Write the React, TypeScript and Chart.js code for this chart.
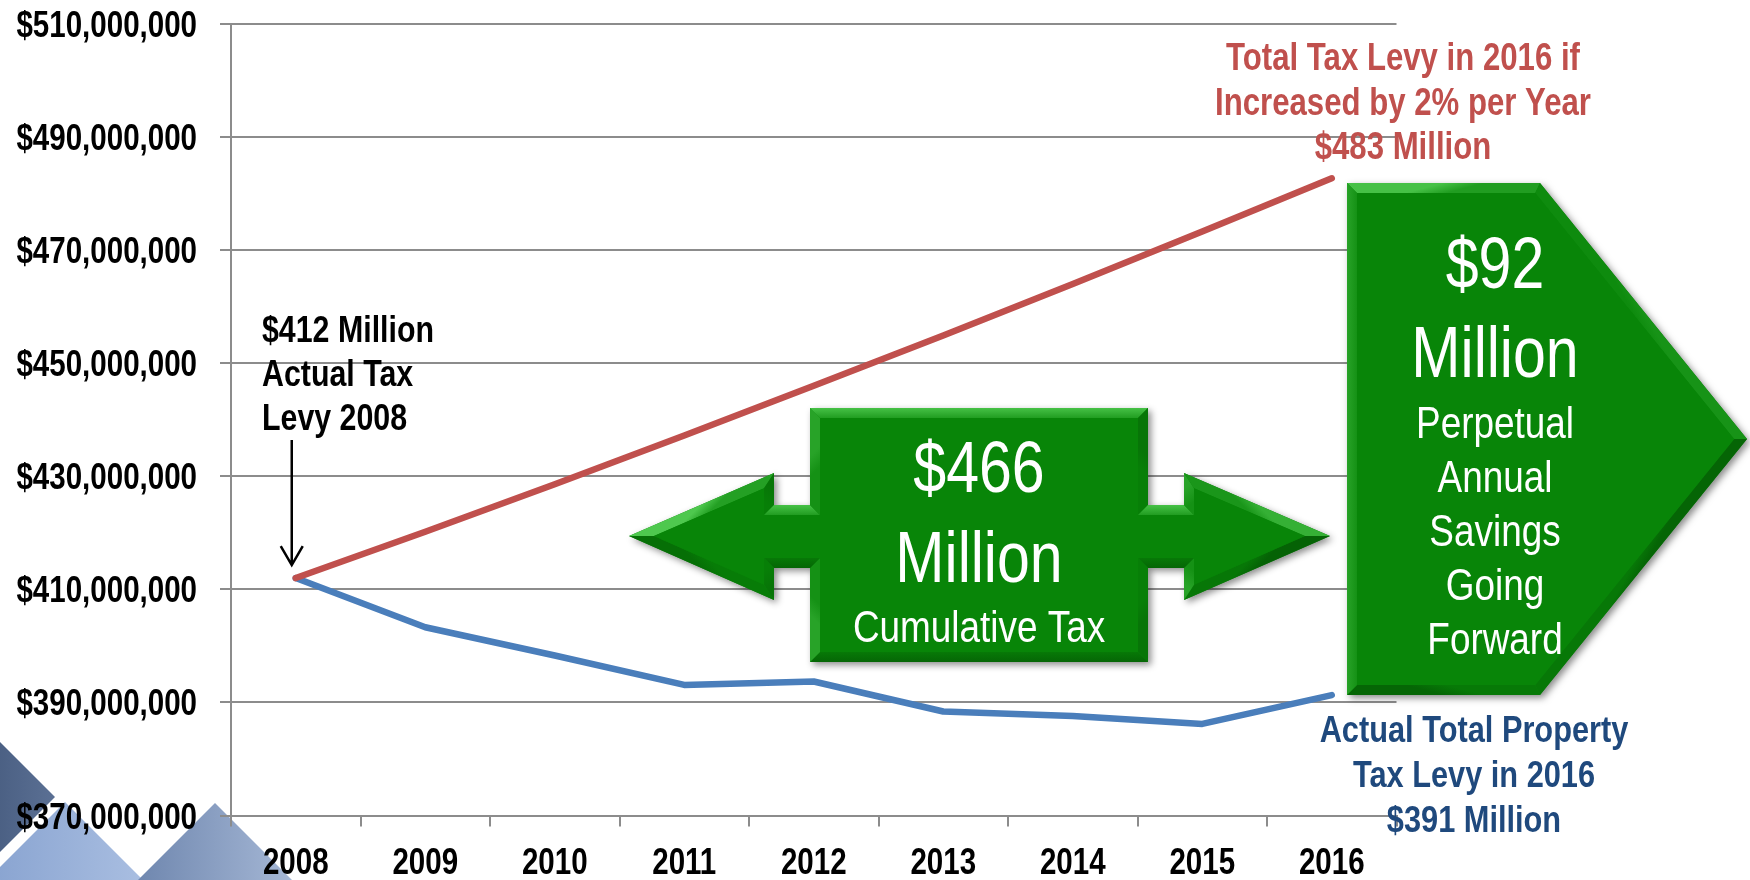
import React, { useEffect, useRef } from 'react';
import { Chart, registerables } from 'chart.js';

Chart.register(...registerables);

// Property tax levy, millions of dollars
const years = ['2008', '2009', '2010', '2011', '2012', '2013', '2014', '2015', '2016'];
const levyAtTwoPercentGrowth = [412.0, 420.2, 428.6, 437.2, 446.0, 454.9, 464.0, 473.3, 482.7];
const actualPropertyLevy = [412.0, 403.3, 398.3, 393.1, 393.7, 388.4, 387.6, 386.2, 391.3];
const axisMin = 370;
const axisMax = 510;
const axisStep = 20;

const startNote = ['$412 Million', 'Actual Tax', 'Levy 2008'];
const growthNote = ['Total Tax Levy in 2016 if', 'Increased by 2% per Year', '$483 Million'];
const actualNote = ['Actual Total Property', 'Tax Levy in 2016', '$391 Million'];
const cumulativeLines = ['$466', 'Million', 'Cumulative Tax'];
const annualLines = ['$92', 'Million', 'Perpetual', 'Annual', 'Savings', 'Going', 'Forward'];

const RED = '#C0504D';
const BLUE = '#4A7EBB';
const NOTE_BLUE = '#1F497D';
const GRID = '#8c8c8c';
const NARROW = '"Liberation Sans Narrow", "Arial Narrow"';
const TICK_LEN = 11;
const LABEL_PAD = 23;

type P = { x: number; y: number };
type TextFn = (
  ctx: CanvasRenderingContext2D,
  text: string,
  x: number,
  y: number,
  size: number,
  bold: boolean,
  color: string,
  align: CanvasTextAlign
) => void;

function narrowAvailable(): boolean {
  const c = document.createElement('canvas').getContext('2d');
  if (!c) return false;
  const probe = '$510,000,000 Million';
  c.font = '40px monospace';
  const a = c.measureText(probe).width;
  c.font = `40px ${NARROW}, monospace`;
  const b = c.measureText(probe).width;
  return Math.abs(a - b) > 1;
}

// condensed sans text: a narrow face when installed, otherwise a horizontally squeezed Arial-metric face
function makeText(narrowOK: boolean): TextFn {
  return (ctx, text, x, y, size, bold, color, align) => {
    ctx.save();
    ctx.fillStyle = color;
    ctx.textAlign = align;
    ctx.textBaseline = 'alphabetic';
    const weight = bold ? 'bold ' : '';
    if (narrowOK) {
      ctx.font = `${weight}${size}px ${NARROW}, sans-serif`;
      ctx.fillText(text, x, y);
    } else {
      ctx.translate(x, y);
      ctx.scale(0.82, 1);
      ctx.font = `${weight}${size}px "Liberation Sans", Arial, sans-serif`;
      ctx.fillText(text, 0, 0);
    }
    ctx.restore();
  };
}

const mixArr = (a: number[], b: number[], t: number) => a.map((v, i) => v + (b[i] - v) * t);
const rgb = (c: number[]) => `rgb(${c.map((v) => Math.round(v)).join(',')})`;

function insetPolygon(pts: P[], d: number): P[] {
  const n = pts.length;
  const lines = pts.map((p, i) => {
    const q = pts[(i + 1) % n];
    const dx = q.x - p.x;
    const dy = q.y - p.y;
    const len = Math.hypot(dx, dy);
    return { x: p.x + (-dy / len) * d, y: p.y + (dx / len) * d, dx, dy };
  });
  return pts.map((_, i) => {
    const a = lines[(i - 1 + n) % n];
    const b = lines[i];
    const cross = a.dx * b.dy - a.dy * b.dx;
    if (Math.abs(cross) < 1e-9) return { x: b.x, y: b.y };
    const t = ((b.x - a.x) * b.dy - (b.y - a.y) * b.dx) / cross;
    return { x: a.x + a.dx * t, y: a.y + a.dy * t };
  });
}

function drawBeveledShape(ctx: CanvasRenderingContext2D, pts: P[], bevel: number) {
  const base = [8, 133, 8];
  const light = [78, 200, 78];
  const dark = [5, 98, 5];
  const trace = (list: P[]) => {
    ctx.beginPath();
    list.forEach((p, i) => (i ? ctx.lineTo(p.x, p.y) : ctx.moveTo(p.x, p.y)));
    ctx.closePath();
  };
  ctx.save();
  ctx.shadowColor = 'rgba(0,0,0,0.45)';
  ctx.shadowBlur = 7;
  ctx.shadowOffsetX = 3;
  ctx.shadowOffsetY = 3;
  trace(pts);
  ctx.fillStyle = rgb(base);
  ctx.fill();
  ctx.restore();

  const inner = insetPolygon(pts, bevel);
  const n = pts.length;
  const lx = -0.45;
  const ly = -0.89;
  for (let i = 0; i < n; i++) {
    const p = pts[i];
    const q = pts[(i + 1) % n];
    const pi = inner[i];
    const qi = inner[(i + 1) % n];
    const dx = q.x - p.x;
    const dy = q.y - p.y;
    const len = Math.hypot(dx, dy);
    const ox = dy / len;
    const oy = -dx / len;
    const dot = ox * lx + oy * ly;
    const edge = dot >= 0 ? mixArr(base, light, dot) : mixArr(base, dark, -dot);
    const g = ctx.createLinearGradient(
      (p.x + q.x) / 2,
      (p.y + q.y) / 2,
      (pi.x + qi.x) / 2,
      (pi.y + qi.y) / 2
    );
    g.addColorStop(0, rgb(edge));
    g.addColorStop(1, rgb(mixArr(edge, base, 0.6)));
    ctx.beginPath();
    ctx.moveTo(p.x, p.y);
    ctx.lineTo(q.x, q.y);
    ctx.lineTo(qi.x, qi.y);
    ctx.lineTo(pi.x, pi.y);
    ctx.closePath();
    ctx.fillStyle = g;
    ctx.fill();
  }
  trace(inner);
  ctx.fillStyle = rgb(base);
  ctx.fill();
}

function diamond(ctx: CanvasRenderingContext2D, cx: number, top: number, half: number, c1: string, c2: string) {
  const g = ctx.createLinearGradient(cx - half, 0, cx + half, 0);
  g.addColorStop(0, c1);
  g.addColorStop(1, c2);
  ctx.beginPath();
  ctx.moveTo(cx, top);
  ctx.lineTo(cx + half, top + half);
  ctx.lineTo(cx, top + 2 * half);
  ctx.lineTo(cx - half, top + half);
  ctx.closePath();
  ctx.fillStyle = g;
  ctx.fill();
}

const formatDollars = (v: number) => '$' + Math.round(v).toLocaleString('en-US');

export default function App() {
  const ref = useRef<HTMLCanvasElement>(null);

  useEffect(() => {
    if (!ref.current) return;
    const text = makeText(narrowAvailable());

    const decor = {
      id: 'levyDecor',
      beforeDraw(chart: Chart) {
        const ctx = chart.ctx;
        ctx.save();
        diamond(ctx, 0, 742, 55, '#3c5174', '#5b7094');
        diamond(ctx, 65, 802, 78, '#88a3d0', '#a9bee1');
        diamond(ctx, 215, 803, 80, '#6e86ae', '#a6b8d6');
        ctx.restore();
      },
      afterDatasetsDraw(chart: Chart) {
        const ctx = chart.ctx;
        const xs = chart.scales.x;
        const ys = chart.scales.y;
        const area = chart.chartArea;
        ctx.save();

        // axis tick labels, placed by the scales
        ys.ticks.forEach((t, i) => {
          const y = ys.getPixelForTick(i);
          text(ctx, formatDollars(t.value), area.left - TICK_LEN - LABEL_PAD, y + 13, 36, true, '#000', 'right');
        });
        xs.ticks.forEach((t, i) => {
          const x = xs.getPixelForTick(i);
          const label = String(xs.getLabelForValue(t.value));
          text(ctx, label, x, area.bottom + 58, 36, true, '#000', 'center');
        });

        // note and arrow on the 2008 starting point
        const x0 = xs.getPixelForValue(0);
        const y0 = ys.getPixelForValue(actualPropertyLevy[0] * 1e6);
        startNote.forEach((s, i) => text(ctx, s, 262, 342 + i * 44, 37, true, '#000', 'left'));
        const ax = x0 - 4;
        const tipY = y0 - 13;
        ctx.strokeStyle = '#000';
        ctx.lineWidth = 2.5;
        ctx.beginPath();
        ctx.moveTo(ax, 440);
        ctx.lineTo(ax, tipY);
        ctx.moveTo(ax - 11, tipY - 19);
        ctx.lineTo(ax, tipY);
        ctx.lineTo(ax + 11, tipY - 19);
        ctx.stroke();

        // 2016 end-point notes
        growthNote.forEach((s, i) => text(ctx, s, 1403, 70 + i * 44.5, 38, true, RED, 'center'));
        actualNote.forEach((s, i) => text(ctx, s, 1474, 742 + i * 45, 37.5, true, NOTE_BLUE, 'center'));

        // cumulative savings double arrow
        const doubleArrow: P[] = [
          { x: 629, y: 536 }, { x: 774, y: 473 }, { x: 774, y: 505 }, { x: 810, y: 505 },
          { x: 810, y: 408 }, { x: 1148, y: 408 }, { x: 1148, y: 505 }, { x: 1184, y: 505 },
          { x: 1184, y: 473 }, { x: 1330, y: 536 }, { x: 1184, y: 600 }, { x: 1184, y: 568 },
          { x: 1148, y: 568 }, { x: 1148, y: 662 }, { x: 810, y: 662 }, { x: 810, y: 568 },
          { x: 774, y: 568 }, { x: 774, y: 600 },
        ];
        drawBeveledShape(ctx, doubleArrow, 10);
        text(ctx, cumulativeLines[0], 979, 492, 72, false, '#fff', 'center');
        text(ctx, cumulativeLines[1], 979, 582, 72, false, '#fff', 'center');
        text(ctx, cumulativeLines[2], 979, 642, 45, false, '#fff', 'center');

        // annual savings pentagon arrow
        const pentagon: P[] = [
          { x: 1347, y: 183 }, { x: 1540, y: 183 }, { x: 1747, y: 439 },
          { x: 1540, y: 695 }, { x: 1347, y: 695 },
        ];
        drawBeveledShape(ctx, pentagon, 10);
        text(ctx, annualLines[0], 1495, 288, 72, false, '#fff', 'center');
        text(ctx, annualLines[1], 1495, 377, 72, false, '#fff', 'center');
        annualLines.slice(2).forEach((s, i) => text(ctx, s, 1495, 438 + i * 54, 45, false, '#fff', 'center'));

        ctx.restore();
      },
    };

    const chart = new Chart(ref.current, {
      type: 'line',
      data: {
        labels: years,
        datasets: [
          {
            label: 'Levy if increased 2% per year',
            data: levyAtTwoPercentGrowth.map((v) => v * 1e6),
            borderColor: RED,
            backgroundColor: RED,
            borderWidth: 6.5,
            borderCapStyle: 'round',
            borderJoinStyle: 'round',
            pointRadius: 0,
            tension: 0,
          },
          {
            label: 'Actual total property tax levy',
            data: actualPropertyLevy.map((v) => v * 1e6),
            borderColor: BLUE,
            backgroundColor: BLUE,
            borderWidth: 6.5,
            borderCapStyle: 'round',
            borderJoinStyle: 'round',
            pointRadius: 0,
            tension: 0,
          },
        ],
      },
      options: {
        responsive: false,
        animation: false,
        devicePixelRatio: 1,
        layout: { padding: { top: 24, right: 353.5, bottom: 0, left: 0 } },
        plugins: { legend: { display: false }, tooltip: { enabled: false } },
        scales: {
          x: {
            offset: true,
            grid: {
              offset: true,
              drawOnChartArea: false,
              drawTicks: true,
              tickLength: TICK_LEN,
              color: GRID,
              lineWidth: 2,
            },
            border: { display: true, color: GRID, width: 2 },
            ticks: { display: false, autoSkip: false, maxRotation: 0 },
            afterFit: (s: any) => {
              s.height = 64.5;
            },
          },
          y: {
            min: axisMin * 1e6,
            max: axisMax * 1e6,
            grid: { color: GRID, lineWidth: 2, tickLength: TICK_LEN, drawTicks: true },
            border: { display: true, color: GRID, width: 2 },
            ticks: { display: false, stepSize: axisStep * 1e6 },
            afterFit: (s: any) => {
              s.width = 231;
            },
          },
        },
      },
      plugins: [decor],
    });
    return () => chart.destroy();
  }, []);

  return (
    <div style={{ position: 'absolute', left: 0, top: 0, width: 1750, height: 880, background: '#fff' }}>
      <canvas ref={ref} width={1750} height={880} style={{ display: 'block', width: 1750, height: 880 }} />
    </div>
  );
}
